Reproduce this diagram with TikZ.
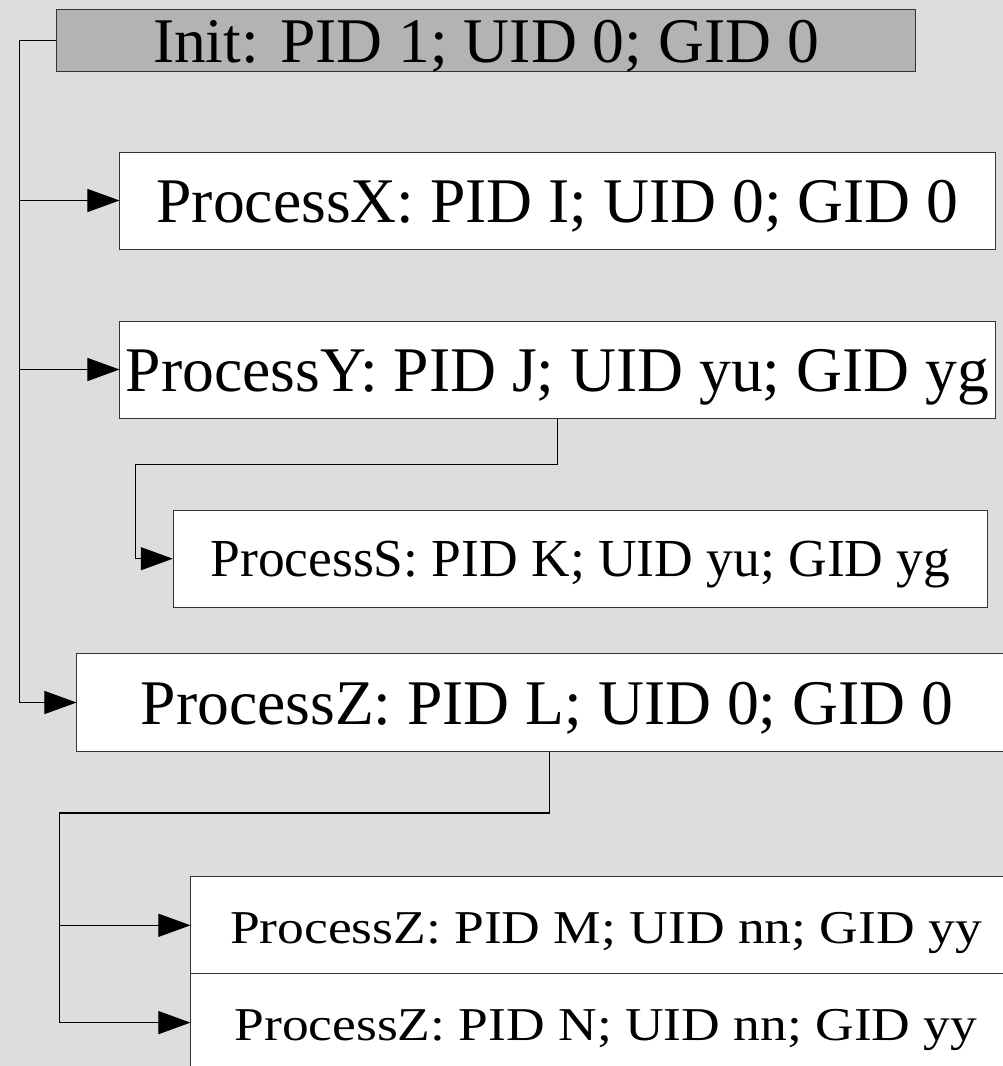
\documentclass[tikz,border=0pt]{standalone}
\usepackage{fontspec}
\usepackage{graphicx}
\setmainfont{Liberation Serif}
\usetikzlibrary{arrows.meta}
\definecolor{bgc}{HTML}{DDDDDD}
\definecolor{initc}{HTML}{B3B3B3}
\definecolor{boxline}{HTML}{333333}
\tikzset{
  pbox/.style={draw=boxline, fill=white, line width=1bp, inner sep=0pt,
    text height=44.6bp, text depth=0bp, align=center},
  bigfont/.style={font=\fontsize{63.6bp}{70bp}\selectfont},
  midfont/.style={font=\fontsize{53.5bp}{60bp}\selectfont, text height=36bp},
  conn/.style={draw=black, line width=1bp},
  tip/.style={-{Triangle[length=32bp,width=23bp]}}
}
\begin{document}
\begin{tikzpicture}[x=1bp,y=-1bp]
\useasboundingbox (0,0) rectangle (1003,1066);
\clip (0,0) rectangle (1003,1066);
\fill[bgc] (0,0) rectangle (1003,1066);

% boxes
\node[pbox, bigfont, fill=initc, minimum width=858bp, minimum height=62bp] (init) at (486,40) {Init: PID 1; UID 0; GID 0};
\node[pbox, bigfont, minimum width=875bp, minimum height=97bp] (px) at (557.5,200.5) {ProcessX: PID I; UID 0; GID 0};
\node[pbox, bigfont, minimum width=875bp, minimum height=97bp] (py) at (557.5,369.5) {ProcessY: PID J; UID yu; GID yg};
\node[pbox, midfont, minimum width=814.4bp, minimum height=97.3bp] (ps) at (580.5,558.7) {ProcessS: PID K; UID yu; GID yg};
\node[pbox, bigfont, minimum width=940bp, minimum height=98.4bp] (pl) at (547,702.5) {ProcessZ: PID L; UID 0; GID 0};
\node[pbox, midfont, minimum width=830bp, minimum height=97.3bp] (pm) at (606,925.3) {\scalebox{1}[0.88]{ProcessZ: PID M; UID nn; GID yy}};
\node[pbox, midfont, minimum width=830bp, minimum height=97.3bp] (pn) at (606,1022.6) {\scalebox{1}[0.88]{ProcessZ: PID N; UID nn; GID yy}};

% helper columns
\coordinate (trunk) at (19.5,0);
\coordinate (sx) at (135,0);
\coordinate (zx) at (549.5,0);
\coordinate (mx) at (59.3,0);

% connectors from Init
\draw[conn, tip] (init.west) -| (trunk |- pl.west) -- (pl.west);
\draw[conn, tip] (trunk |- px.west) -- (px.west);
\draw[conn, tip] (trunk |- py.west) -- (py.west);

% ProcessY -> ProcessS
\draw[conn, tip] (py.south) -- ++(0,46) -| (sx |- ps.west) -- (ps.west);

% ProcessZ -> M, N
\draw[conn, line width=1.6bp] (zx |- pl.south) -- ++(0,61) -| (mx |- pm.west);
\draw[conn, tip] (mx |- pm.west) -- (mx |- pn.west) -- (pn.west);
\draw[conn, tip] (mx |- pm.west) -- (pm.west);
\end{tikzpicture}
\end{document}
